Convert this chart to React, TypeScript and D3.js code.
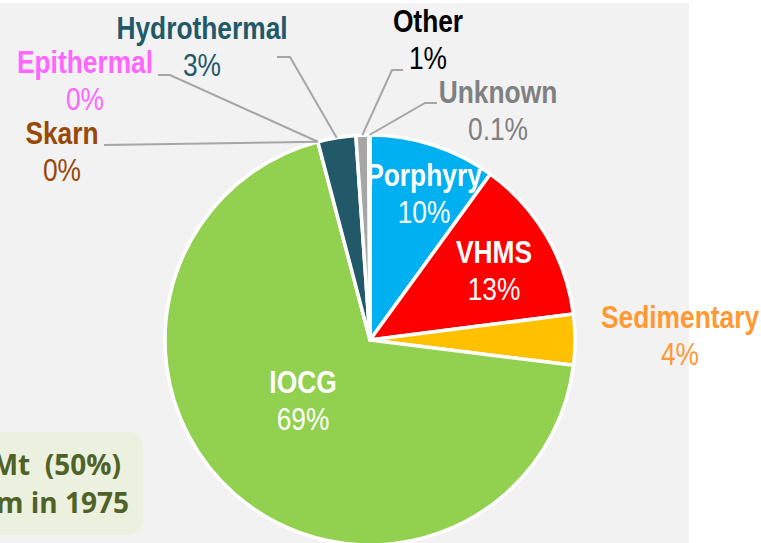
import React, { useEffect, useRef } from "react";
import * as d3 from "d3";

// deposit types, clockwise from 12 o'clock
const categories = ["Porphyry", "VHMS", "Sedimentary", "IOCG", "Skarn", "Epithermal", "Hydrothermal", "Other", "Unknown"];
const shares = [10, 13, 4, 69, 0, 0, 3, 1, 0.1];
const pctLabels = ["10%", "13%", "4%", "69%", "0%", "0%", "3%", "1%", "0.1%"];
const sliceColors = ["#00b0f0", "#ff0000", "#ffc000", "#92d050", "#984807", "#ff66ff", "#215968", "#a6a6a6", "#808080"];
const labelColors = ["#ffffff", "#ffffff", "#ff9933", "#ffffff", "#984807", "#ff66ff", "#215968", "#000000", "#808080"];

// label placement: centre x, name baseline, optional leader [textSideX, elbowX, y]
const labelLayout: { x: number; y: number; leader?: [number, number, number] }[] = [
  { x: 424, y: 186 },
  { x: 494, y: 263 },
  { x: 680, y: 328 },
  { x: 303, y: 393 },
  { x: 62, y: 144, leader: [104, 104, 145] },
  { x: 85, y: 73, leader: [158, 170, 75] },
  { x: 202, y: 39, leader: [277, 290, 57] },
  { x: 428, y: 32, leader: [403, 392, 70] },
  { x: 498, y: 103, leader: [437, 425, 103] },
];

const noteLines = ["Mt  (50%)", "m in 1975"];

const W = 761, H = 543;

const App = () => {
  const ref = useRef<SVGSVGElement>(null);

  useEffect(() => {
    const svg = d3.select(ref.current);
    svg.selectAll("*").remove();

    const cx = 370, cy = 340, r = 205;
    // no narrow font installed, so squeeze Liberation Sans horizontally
    const squeeze = 0.85;

    // panel background
    svg.append("rect").attr("x", 0).attr("y", 3).attr("width", 689).attr("height", H - 3).attr("fill", "#f2f2f2");

    // note box, cut by the left edge
    svg.append("rect")
      .attr("x", -20).attr("y", 432).attr("width", 163).attr("height", 103)
      .attr("rx", 15).attr("fill", "#ebf1de");
    svg.append("g").selectAll("text")
      .data(noteLines)
      .enter().append("text")
      .attr("x", (d, i) => (i === 0 ? 121 : 129))
      .attr("y", (d, i) => 475 + i * 38)
      .attr("text-anchor", "end")
      .attr("font-family", "'Open Sans', sans-serif")
      .attr("font-weight", 700)
      .attr("font-size", 28)
      .attr("fill", "#4f6228")
      .style("white-space", "pre")
      .text(d => d);

    const pie = d3.pie<number>().sort(null).value(d => d);
    const arcs = pie(shares);
    const arc = d3.arc<d3.PieArcDatum<number>>().innerRadius(0).outerRadius(r);

    const g = svg.append("g").attr("transform", `translate(${cx},${cy})`);

    g.selectAll("path")
      .data(arcs.filter(a => a.value > 0))
      .enter().append("path")
      .attr("d", arc)
      .attr("fill", d => sliceColors[d.index])
      .attr("stroke", "#ffffff")
      .attr("stroke-width", 3.5)
      .attr("stroke-linejoin", "round");

    // leader lines: text side typed, pie side from the arc angle
    arcs.forEach((a, i) => {
      const lay = labelLayout[i];
      if (!lay.leader) return;
      const mid = (a.startAngle + a.endAngle) / 2;
      const px = cx + r * Math.sin(mid);
      const py = cy - r * Math.cos(mid);
      const [x1, x2, y] = lay.leader;
      svg.append("polyline")
        .attr("points", `${x1},${y} ${x2},${y} ${px},${py}`)
        .attr("fill", "none")
        .attr("stroke", "#a6a6a6")
        .attr("stroke-width", 2);
    });

    // labels
    categories.forEach((name, i) => {
      const lay = labelLayout[i];
      const t = svg.append("g")
        .attr("fill", labelColors[i])
        .attr("font-family", "'Liberation Sans', Arial, sans-serif")
        .attr("font-size", 31)
        .attr("text-anchor", "middle");
      t.append("text")
        .attr("transform", `translate(${lay.x},${lay.y}) scale(${squeeze},1)`)
        .attr("font-weight", 700).text(name);
      t.append("text")
        .attr("transform", `translate(${lay.x},${lay.y + 37}) scale(${squeeze},1)`)
        .text(pctLabels[i]);
    });
  }, []);

  return (
    <svg ref={ref} width={W} height={H} style={{ position: "absolute", left: 0, top: 0, background: "#ffffff" }} />
  );
};

export default App;
